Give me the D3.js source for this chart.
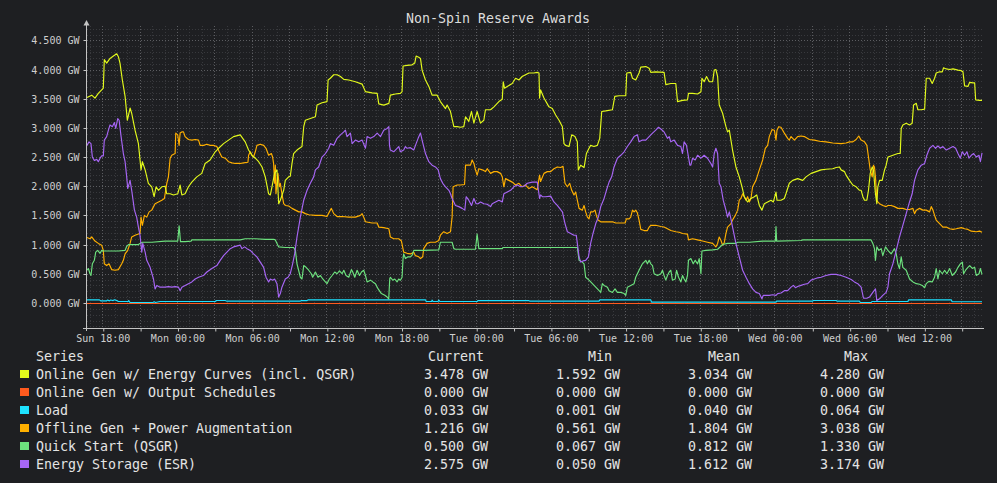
<!DOCTYPE html>
<html>
<head>
<meta charset="utf-8">
<script src="https://cdn.jsdelivr.net/npm/d3@7"></script>
<style>
  html, body { margin: 0; padding: 0; background: #1e1f22; }
  svg { display: block; font-family: "DejaVu Sans Mono", monospace; }
  .grid-minor { stroke: #38393d; stroke-width: 1; stroke-dasharray: 1,2; }
  .grid-major { stroke: #5c5d61; stroke-width: 1; stroke-dasharray: 1,2; }
  .legend text { fill: #e4e4e4; font-size: 13.3px; }
  .title { fill: #dcdcdc; font-size: 13.3px; }
</style>
</head>
<body>
<div id="chart"></div>
<script>
// time axis: hours since the first sample (Sun 16:44)
const startTime = new Date(2024, 0, 7, 16, 44);
const spanHours = 72.06;

const seriesNames = [
  "Online Gen w/ Energy Curves (incl. QSGR)",
  "Online Gen w/ Output Schedules",
  "Load",
  "Offline Gen + Power Augmentation",
  "Quick Start (QSGR)",
  "Energy Storage (ESR)"
];
const seriesColors = ["#e3fa1c", "#ff5a1e", "#1ee2ff", "#ffb000", "#6de27e", "#a766f5"];

const currentVals = [3.478, 0.000, 0.033, 1.216, 0.500, 2.575];
const minVals = [1.592, 0.000, 0.001, 0.561, 0.067, 0.050];
const meanVals = [3.034, 0.000, 0.040, 1.804, 0.812, 1.612];
const maxVals = [4.280, 0.000, 0.064, 3.038, 1.330, 3.174];

const yTickValues = [0, 0.5, 1, 1.5, 2, 2.5, 3, 3.5, 4, 4.5];

// [hours, GW]
const onlineEnergy = [[0,3.53],[0.38,3.57],[0.64,3.52],[0.91,3.60],[1.18,3.66],[1.31,3.69],[1.39,4.18],[1.58,4.12],[1.85,4.20],[2.12,4.24],[2.39,4.28],[2.52,4.23],[2.65,4.12],[2.84,3.83],[3.06,3.55],[3.24,3.14],[3.46,3.35],[3.59,3.26],[3.86,2.97],[4.13,2.74],[4.34,2.29],[4.45,2.43],[4.67,2.29],[4.93,2.06],[5.20,2.00],[5.39,1.83],[5.55,2.00],[5.74,1.94],[6.01,2.00],[6.27,2.01],[6.41,1.88],[6.68,1.88],[6.95,1.86],[7.29,1.88],[7.48,2.03],[7.62,1.86],[7.88,1.88],[8.15,2.00],[8.42,2.08],[8.82,2.17],[9.22,2.23],[9.49,2.40],[9.89,2.46],[10.30,2.60],[10.57,2.66],[10.97,2.74],[11.37,2.80],[11.77,2.86],[12.31,2.89],[12.71,2.77],[12.98,2.63],[13.25,2.54],[13.52,2.49],[13.79,2.43],[14.06,2.34],[14.32,2.17],[14.59,1.88],[14.73,1.86],[14.86,2.00],[15.07,2.23],[15.26,2.29],[15.40,1.71],[15.53,1.77],[15.80,1.94],[15.93,2.11],[16.20,2.17],[16.33,2.18],[16.47,2.40],[16.60,2.57],[16.87,2.63],[17.27,2.69],[17.41,3.03],[17.54,3.14],[17.94,3.17],[18.35,3.20],[18.48,3.40],[18.88,3.44],[19.28,3.46],[19.37,3.83],[19.55,3.86],[19.82,3.92],[20.09,3.92],[20.36,3.89],[20.63,3.84],[21.03,3.83],[21.56,3.80],[22.10,3.76],[22.37,3.63],[22.90,3.61],[23.31,3.60],[23.44,3.42],[23.84,3.40],[24.25,3.43],[24.37,3.57],[24.77,3.59],[25.18,3.60],[25.31,3.63],[25.39,4.07],[25.71,4.08],[26.12,4.09],[26.33,4.12],[26.44,4.24],[26.65,4.22],[26.79,4.20],[26.92,4.00],[27.19,3.83],[27.46,3.72],[27.72,3.57],[28.13,3.57],[28.39,3.46],[28.80,3.34],[28.93,3.40],[29.20,3.29],[29.47,3.03],[29.74,3.03],[30.00,3.02],[30.27,3.03],[30.41,3.20],[30.67,3.12],[30.89,3.29],[31.08,3.09],[31.34,3.29],[31.61,3.09],[31.88,3.14],[32.01,3.32],[32.42,3.32],[32.69,3.37],[33.09,3.46],[33.36,3.50],[33.44,3.80],[33.54,3.69],[33.76,3.72],[34.16,3.77],[34.43,3.86],[34.70,3.83],[34.96,3.89],[35.23,3.92],[35.50,3.95],[35.90,3.95],[36.17,3.96],[36.31,3.95],[36.36,3.52],[36.44,3.66],[36.71,3.52],[37.11,3.37],[37.38,3.34],[37.65,3.23],[37.92,3.14],[38.19,3.03],[38.32,2.74],[38.45,2.71],[38.72,2.69],[38.94,2.89],[39.20,2.86],[39.39,2.77],[39.47,2.29],[39.66,2.37],[39.93,2.33],[40.12,2.57],[40.33,2.66],[40.46,2.71],[40.73,2.69],[41.00,2.71],[41.19,2.83],[41.35,3.29],[41.67,3.30],[42.21,3.32],[42.40,3.55],[42.74,3.56],[43.28,3.56],[43.36,3.95],[43.68,3.96],[43.82,3.86],[44.08,3.83],[44.35,3.95],[44.49,4.05],[44.89,4.06],[45.16,4.03],[45.29,3.96],[45.69,3.97],[46.36,3.96],[46.50,3.75],[46.90,3.77],[47.30,3.77],[47.44,3.46],[47.84,3.48],[48.24,3.49],[48.32,3.60],[48.65,3.60],[49.05,3.59],[49.32,3.63],[49.40,3.86],[49.58,3.80],[49.77,3.89],[49.99,3.80],[50.26,3.80],[50.39,4.00],[50.52,4.01],[50.66,3.89],[50.79,3.40],[51.06,3.26],[51.33,3.03],[51.46,2.94],[51.60,2.97],[51.86,2.63],[52.13,2.34],[52.40,2.17],[52.62,2.00],[52.80,1.83],[53.07,1.74],[53.34,1.80],[53.61,1.83],[53.80,1.86],[54.01,1.68],[54.22,1.60],[54.41,1.71],[54.68,1.74],[54.95,1.77],[55.14,1.74],[55.35,1.91],[55.43,1.77],[55.75,1.77],[56.02,1.80],[56.15,1.88],[56.42,2.06],[56.69,2.11],[57.09,2.14],[57.50,2.11],[57.76,2.17],[58.17,2.23],[58.57,2.26],[58.97,2.29],[59.37,2.30],[59.91,2.31],[60.18,2.33],[60.45,2.34],[60.58,2.29],[60.85,2.26],[60.98,2.20],[61.25,2.11],[61.52,2.03],[61.79,2.00],[62.06,1.94],[62.19,1.94],[62.33,1.83],[62.46,1.77],[62.65,1.77],[62.78,1.94],[62.92,2.23],[63.08,2.34],[63.18,2.29],[63.34,1.88],[63.45,1.71],[63.53,2.00],[63.67,2.11],[63.88,2.11],[64.07,2.29],[64.20,2.37],[64.34,2.51],[64.47,2.52],[64.74,2.54],[65.14,2.57],[65.33,2.57],[65.41,3.00],[65.54,3.06],[65.81,3.09],[66.08,3.06],[66.29,3.09],[66.40,3.40],[66.62,3.43],[66.75,3.32],[67.02,3.32],[67.29,3.33],[67.42,3.86],[67.69,3.86],[67.90,3.77],[68.09,3.86],[68.22,3.95],[68.49,3.97],[68.71,3.97],[68.81,4.04],[69.03,4.02],[69.30,4.01],[69.57,4.02],[69.97,4.00],[70.24,3.99],[70.37,3.97],[70.50,3.73],[70.77,3.72],[70.91,3.79],[71.17,3.78],[71.31,3.78],[71.39,3.49],[71.71,3.48],[71.90,3.48]];

const outputSchedules = [[0,0],[12,0],[24,0],[36,0],[48,0],[60,0],[71.90,0]];

const load = [[0,0.063],[1.00,0.063],[1.10,0.045],[1.58,0.045],[1.65,0.060],[1.80,0.045],[1.90,0.060],[2.10,0.050],[2.20,0.063],[2.40,0.050],[2.52,0.034],[3.30,0.034],[3.35,0.050],[3.46,0.017],[5.30,0.017],[5.40,0.030],[5.50,0.017],[5.87,0.034],[10.30,0.034],[10.40,0.052],[11.10,0.052],[11.24,0.040],[17.14,0.040],[17.20,0.050],[17.68,0.050],[17.75,0.063],[27.19,0.063],[27.25,0.034],[27.70,0.034],[27.72,0.060],[27.80,0.034],[28.20,0.034],[28.26,0.060],[28.35,0.034],[31.34,0.034],[31.40,0.050],[35.50,0.050],[35.56,0.040],[41.13,0.040],[41.20,0.063],[45.29,0.063],[45.35,0.023],[55.35,0.023],[55.40,0.040],[58.30,0.040],[58.35,0.052],[60.18,0.052],[60.25,0.040],[62.06,0.040],[62.12,0.017],[63.00,0.017],[63.06,0.034],[65.95,0.034],[66.00,0.063],[69.43,0.063],[69.50,0.030],[71.90,0.030]];

const offlineGen = [[0,1.13],[0.24,1.11],[0.38,1.14],[0.64,1.07],[0.91,1.03],[1.18,1.00],[1.31,0.91],[1.39,0.68],[1.58,0.65],[1.77,0.68],[1.99,0.58],[2.25,0.57],[2.52,0.58],[2.79,0.68],[2.92,0.74],[3.06,0.85],[3.27,0.91],[3.46,1.03],[3.59,1.14],[3.86,1.17],[4.13,1.19],[4.26,1.20],[4.34,1.48],[4.45,1.34],[4.61,1.51],[4.80,1.48],[4.99,1.57],[5.20,1.60],[5.47,1.71],[5.74,1.74],[6.01,1.77],[6.22,1.80],[6.41,2.06],[6.54,2.17],[6.68,2.49],[6.81,2.54],[7.08,2.57],[7.13,2.92],[7.29,2.89],[7.40,2.71],[7.48,2.92],[7.62,2.94],[7.75,2.94],[7.88,2.86],[8.15,2.81],[8.42,2.80],[8.69,2.81],[8.96,2.80],[9.09,2.71],[9.36,2.71],[9.63,2.73],[9.90,2.71],[10.16,2.71],[10.43,2.69],[10.62,2.60],[10.83,2.51],[11.10,2.49],[11.37,2.43],[11.64,2.41],[11.91,2.40],[12.31,2.40],[12.58,2.41],[12.93,2.42],[12.98,2.54],[13.12,2.60],[13.25,2.54],[13.38,2.51],[13.52,2.60],[13.65,2.71],[13.92,2.73],[14.19,2.71],[14.38,2.66],[14.59,2.54],[14.81,2.57],[14.91,2.51],[14.99,2.40],[15.07,2.06],[15.13,2.37],[15.18,1.88],[15.26,2.06],[15.34,2.23],[15.45,2.00],[15.53,2.06],[15.66,1.88],[15.80,1.71],[15.93,1.68],[16.20,1.67],[16.47,1.63],[16.74,1.60],[17.01,1.57],[17.27,1.57],[17.54,1.54],[17.81,1.52],[18.35,1.51],[18.88,1.51],[19.28,1.49],[19.47,1.57],[19.63,1.63],[19.82,1.54],[20.09,1.49],[20.49,1.49],[21.03,1.48],[21.56,1.48],[21.97,1.51],[22.10,1.54],[22.23,1.48],[22.37,1.40],[22.90,1.38],[23.31,1.38],[23.44,1.31],[23.84,1.30],[24.25,1.28],[24.37,1.14],[24.64,1.11],[25.04,1.11],[25.26,1.07],[25.44,0.88],[25.71,0.86],[25.98,0.85],[26.25,0.88],[26.38,0.82],[26.65,0.80],[26.79,0.77],[26.97,0.80],[27.05,0.94],[27.32,1.03],[27.59,1.05],[27.99,1.05],[28.26,1.08],[28.39,1.17],[28.66,1.23],[28.93,1.20],[29.20,1.23],[29.33,1.48],[29.41,2.00],[29.74,2.03],[30.00,2.03],[30.33,2.04],[30.41,2.37],[30.81,2.37],[30.94,2.46],[31.08,2.40],[31.21,2.29],[31.34,2.20],[31.48,2.31],[31.75,2.29],[32.01,2.26],[32.15,2.31],[32.42,2.23],[32.69,2.26],[32.95,2.26],[33.22,2.23],[33.36,2.17],[33.49,2.00],[33.62,2.14],[33.89,2.11],[34.16,2.08],[34.43,2.03],[34.70,2.06],[34.96,2.00],[35.23,2.03],[35.50,1.97],[35.77,2.00],[36.17,1.95],[36.31,2.14],[36.36,2.20],[36.44,2.09],[36.71,2.23],[36.98,2.26],[37.25,2.26],[37.51,2.31],[37.78,2.34],[38.05,2.33],[38.24,2.35],[38.40,2.06],[38.59,2.00],[38.78,2.06],[38.94,1.94],[39.12,1.86],[39.26,1.91],[39.39,1.77],[39.53,1.63],[39.79,1.60],[39.93,1.68],[40.06,1.57],[40.20,1.48],[40.33,1.45],[40.46,1.57],[40.65,1.57],[40.81,1.60],[40.92,1.51],[41.05,1.43],[41.27,1.40],[42.21,1.40],[42.48,1.38],[43.23,1.38],[43.33,1.45],[43.55,1.45],[43.68,1.48],[43.82,1.60],[43.95,1.57],[44.08,1.60],[44.22,1.55],[44.35,1.43],[44.49,1.27],[44.76,1.25],[45.02,1.25],[45.16,1.31],[45.29,1.34],[45.69,1.34],[46.10,1.32],[46.36,1.31],[46.63,1.28],[46.90,1.25],[47.30,1.23],[47.57,1.22],[47.84,1.20],[48.24,1.19],[48.32,1.09],[48.65,1.11],[49.05,1.09],[49.45,1.07],[49.85,1.05],[50.26,1.03],[50.52,0.97],[50.66,1.03],[50.79,1.14],[50.93,1.08],[51.06,1.00],[51.19,1.04],[51.33,1.20],[51.46,1.31],[51.73,1.37],[51.86,1.43],[52.08,1.51],[52.27,1.60],[52.40,1.77],[52.53,1.80],[52.67,1.88],[52.80,1.83],[52.94,1.77],[53.07,1.83],[53.21,1.74],[53.34,1.80],[53.47,2.00],[53.74,2.11],[54.01,2.29],[54.28,2.46],[54.49,2.66],[54.68,2.71],[54.81,2.86],[55.03,2.98],[55.22,2.97],[55.35,2.80],[55.43,2.97],[55.57,3.03],[55.75,3.02],[56.02,2.92],[56.29,2.83],[56.42,2.80],[56.56,2.86],[56.83,2.80],[57.09,2.86],[57.36,2.87],[57.63,2.86],[58.03,2.81],[58.43,2.80],[58.84,2.78],[59.37,2.77],[59.91,2.75],[60.58,2.74],[60.98,2.75],[61.25,2.77],[61.52,2.77],[61.79,2.81],[62.00,2.87],[62.19,2.80],[62.46,2.77],[62.65,2.71],[62.78,2.51],[62.92,2.29],[63.08,2.17],[63.18,2.37],[63.26,2.34],[63.34,2.17],[63.45,1.77],[63.53,1.74],[63.67,1.71],[63.93,1.68],[64.20,1.66],[64.34,1.68],[64.60,1.68],[64.87,1.66],[65.14,1.63],[65.54,1.63],[65.81,1.61],[66.08,1.61],[66.35,1.63],[66.48,1.54],[66.62,1.60],[66.88,1.63],[67.15,1.60],[67.42,1.60],[67.69,1.57],[67.82,1.66],[67.96,1.60],[68.09,1.51],[68.22,1.43],[68.49,1.37],[68.76,1.31],[69.03,1.31],[69.30,1.28],[69.57,1.27],[69.83,1.28],[70.24,1.30],[70.50,1.28],[70.77,1.27],[71.04,1.24],[71.44,1.23],[71.71,1.24],[71.90,1.22]];

const quickStart = [[0,0.57],[0.11,0.60],[0.24,0.51],[0.32,0.48],[0.43,0.68],[0.59,0.74],[0.70,0.88],[0.86,0.91],[1.05,0.86],[1.18,0.91],[1.31,0.90],[2.52,0.90],[3.06,0.91],[3.19,0.98],[3.33,1.01],[4.13,1.01],[4.26,1.03],[4.45,1.05],[5.20,1.05],[6.27,1.07],[7.29,1.07],[7.40,1.33],[7.51,1.06],[7.88,1.06],[8.37,1.07],[8.42,1.09],[12.31,1.09],[12.71,1.11],[13.52,1.11],[14.32,1.10],[14.99,1.10],[15.13,1.09],[15.40,0.97],[15.93,0.96],[16.60,0.96],[16.74,0.91],[16.87,0.68],[17.14,0.45],[17.27,0.42],[17.41,0.65],[17.60,0.62],[17.81,0.57],[18.02,0.51],[18.13,0.45],[18.35,0.54],[18.56,0.45],[18.75,0.48],[18.94,0.42],[19.15,0.37],[19.28,0.34],[19.47,0.42],[19.69,0.48],[19.90,0.54],[20.09,0.51],[20.28,0.56],[20.49,0.51],[20.63,0.57],[20.81,0.48],[21.03,0.45],[21.24,0.58],[21.35,0.54],[21.51,0.45],[21.70,0.57],[21.89,0.48],[22.05,0.54],[22.23,0.57],[22.37,0.48],[22.50,0.37],[22.77,0.40],[22.96,0.37],[23.17,0.34],[23.39,0.25],[23.65,0.17],[23.92,0.14],[24.11,0.11],[24.24,0.08],[24.32,0.42],[24.37,0.45],[24.56,0.40],[24.72,0.42],[24.91,0.37],[25.04,0.42],[25.18,0.40],[25.31,0.45],[25.39,0.77],[25.44,0.85],[25.58,0.77],[25.79,0.80],[25.98,0.80],[26.12,0.83],[26.25,0.91],[27.05,0.91],[28.26,0.92],[28.39,1.05],[29.33,1.05],[29.47,0.94],[29.60,0.93],[31.21,0.93],[31.34,1.19],[31.48,0.94],[33.36,0.94],[33.41,0.96],[39.39,0.96],[39.53,0.74],[39.79,0.71],[39.93,0.68],[40.06,0.45],[40.33,0.40],[40.60,0.34],[40.87,0.28],[41.14,0.22],[41.27,0.19],[41.40,0.34],[41.54,0.31],[41.81,0.28],[41.94,0.22],[42.21,0.19],[42.42,0.25],[42.61,0.19],[42.88,0.19],[43.15,0.17],[43.28,0.14],[43.41,0.28],[43.68,0.31],[43.95,0.34],[44.08,0.45],[44.35,0.57],[44.62,0.68],[44.89,0.74],[45.02,0.68],[45.16,0.74],[45.29,0.68],[45.43,0.65],[45.56,0.51],[45.83,0.48],[46.10,0.51],[46.23,0.57],[46.36,0.48],[46.50,0.40],[46.63,0.48],[46.77,0.54],[46.90,0.57],[47.03,0.40],[47.25,0.42],[47.36,0.57],[47.52,0.45],[47.71,0.37],[47.84,0.48],[47.97,0.42],[48.11,0.37],[48.24,0.48],[48.32,0.74],[48.51,0.77],[48.70,0.68],[48.86,0.74],[49.05,0.68],[49.18,0.77],[49.32,0.51],[49.40,0.90],[49.72,0.91],[50.26,0.92],[50.66,0.93],[51.06,1.01],[51.46,1.03],[52.13,1.03],[52.27,1.05],[53.21,1.05],[54.28,1.07],[55.30,1.07],[55.35,1.32],[55.40,1.07],[57.36,1.08],[57.50,1.09],[62.99,1.09],[63.13,1.03],[63.26,0.94],[63.34,0.74],[63.45,0.97],[63.61,0.91],[63.80,0.94],[63.93,0.82],[64.15,0.97],[64.34,0.91],[64.60,0.85],[64.87,0.94],[65.01,0.85],[65.14,0.68],[65.27,0.60],[65.41,0.80],[65.54,0.62],[65.81,0.57],[66.08,0.42],[66.35,0.37],[66.62,0.34],[66.88,0.33],[67.10,0.31],[67.29,0.27],[67.42,0.34],[67.63,0.38],[67.90,0.37],[68.09,0.45],[68.22,0.60],[68.36,0.42],[68.49,0.57],[68.71,0.51],[68.90,0.57],[69.08,0.51],[69.30,0.60],[69.51,0.48],[69.78,0.54],[69.97,0.62],[70.16,0.68],[70.32,0.71],[70.42,0.51],[70.58,0.57],[70.77,0.62],[70.91,0.65],[71.12,0.60],[71.31,0.62],[71.44,0.48],[71.66,0.51],[71.77,0.60],[71.90,0.50]];

const energyStorage = [[0,2.71],[0.16,2.77],[0.32,2.74],[0.43,2.51],[0.59,2.45],[0.78,2.47],[0.91,2.43],[1.05,2.49],[1.18,2.53],[1.31,2.53],[1.39,2.80],[1.58,2.86],[1.72,2.97],[1.85,3.06],[2.04,3.03],[2.20,3.10],[2.31,3.00],[2.47,3.17],[2.58,3.14],[2.74,2.86],[2.92,2.57],[3.06,2.43],[3.19,2.17],[3.27,1.97],[3.46,2.11],[3.59,1.94],[3.81,1.60],[3.99,1.48],[4.13,1.31],[4.26,1.17],[4.40,0.88],[4.48,1.03],[4.67,0.88],[4.80,0.74],[5.07,0.62],[5.34,0.42],[5.47,0.25],[5.61,0.31],[5.87,0.28],[6.27,0.28],[6.54,0.29],[6.81,0.28],[7.08,0.29],[7.35,0.28],[7.48,0.22],[7.62,0.28],[7.88,0.31],[8.15,0.34],[8.42,0.37],[8.69,0.42],[8.96,0.45],[9.36,0.48],[9.63,0.54],[10.03,0.60],[10.43,0.65],[10.70,0.74],[10.97,0.82],[11.24,0.88],[11.51,0.94],[11.77,0.97],[12.31,1.00],[12.45,0.94],[12.66,0.97],[12.85,0.94],[13.12,0.91],[13.38,0.85],[13.65,0.80],[13.92,0.71],[14.19,0.62],[14.38,0.45],[14.59,0.37],[14.73,0.42],[14.91,0.40],[15.07,0.42],[15.26,0.34],[15.40,0.11],[15.53,0.17],[15.66,0.28],[15.93,0.42],[16.15,0.45],[16.33,0.51],[16.52,0.68],[16.68,0.85],[16.87,1.14],[17.14,1.48],[17.41,1.77],[17.68,1.94],[17.94,2.06],[18.21,2.17],[18.35,2.29],[18.61,2.34],[18.88,2.51],[19.15,2.57],[19.42,2.66],[19.55,2.74],[19.82,2.71],[20.09,2.83],[20.36,2.89],[20.63,2.94],[20.76,2.97],[20.89,2.86],[21.16,2.92],[21.30,2.74],[21.56,2.80],[21.83,2.77],[22.10,2.80],[22.37,2.66],[22.50,2.86],[22.77,2.83],[23.04,2.86],[23.31,2.92],[23.58,2.86],[23.84,2.97],[24.11,3.00],[24.25,3.03],[24.30,2.71],[24.37,2.63],[24.64,2.60],[24.91,2.66],[25.04,2.69],[25.18,2.60],[25.44,2.63],[25.58,2.69],[25.71,2.66],[25.98,2.67],[26.25,2.63],[26.44,2.74],[26.60,2.83],[26.79,2.92],[26.92,2.80],[27.05,2.69],[27.19,2.57],[27.46,2.43],[27.72,2.37],[27.99,2.34],[28.21,2.29],[28.39,2.14],[28.58,2.06],[28.80,2.00],[29.07,1.94],[29.20,1.88],[29.33,1.80],[29.47,1.74],[29.60,1.68],[29.87,1.66],[30.14,1.63],[30.35,1.60],[30.46,1.83],[30.67,1.77],[30.89,1.68],[31.08,1.80],[31.26,1.71],[31.42,1.71],[31.61,1.74],[31.88,1.71],[32.15,1.70],[32.42,1.66],[32.55,1.71],[32.82,1.74],[33.09,1.77],[33.36,1.74],[33.49,1.88],[33.76,1.91],[34.03,1.94],[34.29,2.00],[34.56,2.03],[34.83,2.00],[35.10,2.01],[35.37,2.06],[35.77,2.08],[36.17,2.08],[36.36,1.80],[36.44,1.86],[36.58,1.83],[36.84,1.83],[37.25,1.84],[37.51,1.74],[37.78,1.68],[37.97,1.63],[38.19,1.57],[38.40,1.37],[38.59,1.23],[38.86,1.20],[39.12,1.17],[39.31,1.17],[39.39,1.03],[39.53,0.80],[39.66,0.71],[39.85,0.73],[40.06,0.74],[40.28,0.80],[40.46,1.03],[40.65,1.20],[40.87,1.37],[41.08,1.48],[41.27,1.66],[41.54,1.80],[41.73,1.94],[41.94,2.08],[42.15,2.17],[42.34,2.34],[42.61,2.49],[42.88,2.54],[43.15,2.60],[43.41,2.69],[43.68,2.77],[43.95,2.86],[44.22,2.89],[44.35,2.77],[44.62,2.80],[44.89,2.80],[45.16,2.86],[45.43,2.92],[45.69,2.97],[45.91,3.02],[46.10,2.99],[46.36,2.94],[46.63,2.83],[46.77,2.86],[46.90,2.77],[47.17,2.80],[47.44,2.71],[47.71,2.69],[47.84,2.57],[47.97,2.77],[48.16,2.71],[48.32,2.51],[48.43,2.37],[48.51,2.37],[48.65,2.49],[48.86,2.46],[49.05,2.54],[49.32,2.49],[49.58,2.54],[49.85,2.49],[50.12,2.40],[50.26,2.34],[50.39,2.57],[50.52,2.66],[50.66,2.57],[50.79,2.06],[50.93,2.00],[51.11,1.77],[51.33,1.60],[51.46,1.48],[51.60,1.57],[51.73,1.45],[51.86,1.31],[52.13,1.03],[52.40,0.80],[52.67,0.57],[52.94,0.45],[53.21,0.34],[53.47,0.25],[53.74,0.19],[54.01,0.17],[54.22,0.08],[54.33,0.14],[54.55,0.14],[54.81,0.14],[55.08,0.15],[55.35,0.14],[55.48,0.17],[55.75,0.18],[56.02,0.22],[56.29,0.22],[56.56,0.28],[56.75,0.31],[56.91,0.27],[57.09,0.29],[57.36,0.31],[57.63,0.33],[57.90,0.34],[58.17,0.40],[58.43,0.42],[58.70,0.44],[58.97,0.45],[59.37,0.48],[59.77,0.50],[60.18,0.50],[60.58,0.48],[60.98,0.45],[61.39,0.41],[61.65,0.37],[61.92,0.34],[62.19,0.28],[62.38,0.09],[62.65,0.09],[62.86,0.11],[63.13,0.19],[63.34,0.25],[63.45,0.05],[63.67,0.08],[63.93,0.14],[64.20,0.19],[64.34,0.28],[64.47,0.51],[64.74,0.68],[65.01,0.91],[65.27,1.14],[65.54,1.34],[65.81,1.54],[66.08,1.74],[66.29,1.88],[66.48,2.11],[66.75,2.29],[67.02,2.37],[67.29,2.40],[67.47,2.54],[67.69,2.66],[67.96,2.71],[68.17,2.66],[68.36,2.70],[68.55,2.66],[68.76,2.69],[69.03,2.63],[69.30,2.66],[69.57,2.69],[69.78,2.66],[69.97,2.57],[70.16,2.49],[70.32,2.60],[70.50,2.54],[70.69,2.60],[70.85,2.49],[71.04,2.54],[71.23,2.57],[71.44,2.51],[71.66,2.54],[71.77,2.43],[71.90,2.58]];

const seriesData = [onlineEnergy, outputSchedules, load, offlineGen, quickStart, energyStorage];
// the zero-valued series goes on top so it stays visible under the load line
const drawOrder = [2, 3, 4, 5, 0, 1];

const toDate = h => new Date(startTime.getTime() + h * 3600e3);

const drawChart = () => {
    const width = 997;
    const height = 483;
    const plot = { left: 87, right: 984, top: 26, bottom: 328 };

    const svg = d3.select("#chart")
        .append("svg")
        .attr("width", width)
        .attr("height", height)
        .attr("viewBox", `0 0 ${width} ${height}`);

    svg.append("rect")
        .attr("width", width)
        .attr("height", height)
        .attr("fill", "#1e1f22");

    const xScale = d3.scaleTime()
        .domain([startTime, toDate(spanHours)])
        .range([plot.left, plot.right]);

    const yScale = d3.scaleLinear()
        .domain([0, 4.5])
        .range([303.5, 40.9]);

    const crisp = v => Math.round(v - 0.5) + 0.5;

    // grid: minor every 0.1 GW / 1 hour, major every 0.5 GW / 3 hours
    const yLow = yScale.invert(plot.bottom);
    const yHigh = yScale.invert(plot.top);
    const minorY = d3.range(Math.ceil(yLow * 10), Math.floor(yHigh * 10) + 1)
        .filter(k => k % 5 !== 0)
        .map(k => k / 10);
    const hours = d3.timeHour.range(xScale.domain()[0], xScale.domain()[1]);
    const minorX = hours.filter(d => d.getHours() % 3 !== 0);
    const majorX = hours.filter(d => d.getHours() % 3 === 0);

    const grid = svg.append("g");

    grid.selectAll(".hmin")
        .data(minorY)
        .join("line")
        .attr("class", "grid-minor")
        .attr("x1", plot.left).attr("x2", plot.right)
        .attr("y1", d => crisp(yScale(d))).attr("y2", d => crisp(yScale(d)));

    grid.selectAll(".vmin")
        .data(minorX)
        .join("line")
        .attr("class", "grid-minor")
        .attr("x1", d => crisp(xScale(d))).attr("x2", d => crisp(xScale(d)))
        .attr("y1", plot.top).attr("y2", plot.bottom);

    grid.selectAll(".hmaj")
        .data(yTickValues)
        .join("line")
        .attr("class", "grid-major")
        .attr("x1", plot.left).attr("x2", plot.right)
        .attr("y1", d => crisp(yScale(d))).attr("y2", d => crisp(yScale(d)));

    grid.selectAll(".vmaj")
        .data(majorX)
        .join("line")
        .attr("class", "grid-major")
        .attr("x1", d => crisp(xScale(d))).attr("x2", d => crisp(xScale(d)))
        .attr("y1", plot.top).attr("y2", plot.bottom);

    // lines
    const lineGenerator = d3.line()
        .x(d => xScale(toDate(d[0])))
        .y(d => yScale(d[1]));

    svg.append("g")
        .selectAll("path")
        .data(drawOrder)
        .join("path")
        .attr("d", i => lineGenerator(seriesData[i]))
        .attr("fill", "none")
        .attr("stroke", i => seriesColors[i])
        .attr("stroke-width", i => i === 1 ? 1 : 1.15)
        .attr("stroke-linejoin", "round");

    // axes
    const axisColor = "#c4c4c4";
    const fmtTime = d3.timeFormat("%a %H:%M");

    const bottomAxis = d3.axisBottom(xScale)
        .ticks(d3.timeHour.every(3))
        .tickSize(3)
        .tickSizeOuter(0)
        .tickFormat(d => d.getHours() % 6 === 0 ? fmtTime(d) : "");

    const xAxis = svg.append("g")
        .attr("transform", `translate(0, ${plot.bottom + 0.5})`)
        .style("color", axisColor)
        .call(bottomAxis);
    xAxis.select(".domain").remove();
    xAxis.selectAll(".tick line").attr("x1", 0.5).attr("x2", 0.5);
    xAxis.selectAll("text")
        .attr("font-family", "DejaVu Sans Mono, monospace")
        .attr("font-size", 10)
        .attr("fill", "#cfcfcf");

    xAxis.append("line")
        .attr("x1", plot.left - 4).attr("x2", plot.right)
        .attr("y1", 0).attr("y2", 0)
        .attr("stroke", axisColor);

    const leftAxis = d3.axisLeft(yScale)
        .tickValues(yTickValues)
        .tickSize(3)
        .tickPadding(4)
        .tickFormat(d => d3.format(".3f")(d) + " GW");

    const yAxis = svg.append("g")
        .attr("transform", `translate(${plot.left - 0.5}, 0)`)
        .style("color", axisColor)
        .call(leftAxis);
    yAxis.select(".domain").remove();
    yAxis.selectAll(".tick").attr("transform", d => `translate(0, ${crisp(yScale(d))})`);
    yAxis.selectAll("text")
        .attr("font-family", "DejaVu Sans Mono, monospace")
        .attr("font-size", 10)
        .attr("fill", "#cfcfcf");

    yAxis.append("line")
        .attr("x1", 0).attr("x2", 0)
        .attr("y1", 24).attr("y2", plot.bottom + 3)
        .attr("stroke", axisColor);

    yAxis.append("path")
        .attr("d", "M-3,25.5 L3,25.5 L0,20 Z")
        .attr("fill", axisColor);

    svg.append("text")
        .attr("class", "title")
        .attr("x", 498)
        .attr("y", 23)
        .attr("text-anchor", "middle")
        .text("Non-Spin Reserve Awards");

    // legend table
    const legend = svg.append("g").attr("class", "legend");
    const fmtGW = d => d3.format(".3f")(d) + " GW";
    const headerY = 360.5;
    const rowY = i => 379 + i * 18;
    const columns = [
        { title: "Current", center: 456, right: 488, values: currentVals },
        { title: "Min", center: 600, right: 620, values: minVals },
        { title: "Mean", center: 724, right: 752, values: meanVals },
        { title: "Max", center: 856, right: 884, values: maxVals }
    ];

    legend.append("text").attr("x", 36).attr("y", headerY).text("Series");

    columns.forEach(col => {
        legend.append("text")
            .attr("x", col.center).attr("y", headerY)
            .attr("text-anchor", "middle")
            .text(col.title);
        legend.selectAll(null)
            .data(col.values)
            .join("text")
            .attr("x", col.right)
            .attr("y", (d, i) => rowY(i))
            .attr("text-anchor", "end")
            .text(fmtGW);
    });

    legend.selectAll("rect")
        .data(seriesNames)
        .join("rect")
        .attr("x", 20)
        .attr("y", (d, i) => rowY(i) - 9)
        .attr("width", 9)
        .attr("height", 8)
        .attr("fill", (d, i) => seriesColors[i]);

    legend.selectAll(".name")
        .data(seriesNames)
        .join("text")
        .attr("class", "name")
        .attr("x", 36)
        .attr("y", (d, i) => rowY(i))
        .text(d => d);
};

drawChart();
</script>
</body>
</html>
